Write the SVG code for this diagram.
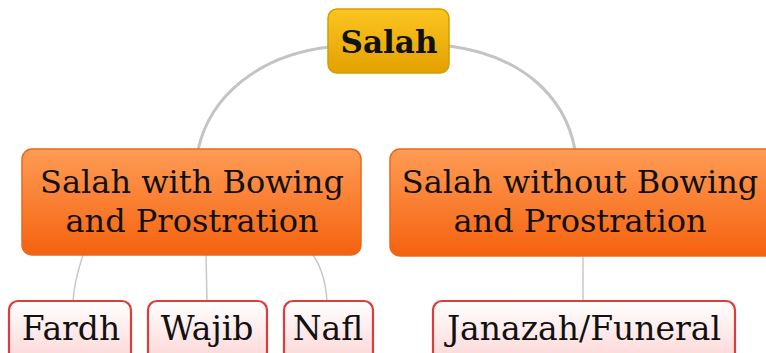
<svg xmlns="http://www.w3.org/2000/svg" width="766" height="353" viewBox="0 0 766 353">
<defs>
<linearGradient id="gold" x1="0" y1="0" x2="0" y2="1"><stop offset="0" stop-color="#fbc520"/><stop offset="1" stop-color="#e3a100"/></linearGradient>
<linearGradient id="orange" x1="0" y1="0" x2="0" y2="1"><stop offset="0" stop-color="#ff9c55"/><stop offset="1" stop-color="#f4620f"/></linearGradient>
<linearGradient id="pink" x1="0" y1="0" x2="0" y2="1"><stop offset="0" stop-color="#ffffff"/><stop offset="1" stop-color="#fcd6d6"/></linearGradient>
<style>
.t{font-family:"DejaVu Serif","Liberation Serif",serif;fill:#111;text-anchor:middle}
.main{fill:url(#orange);stroke:#e8691f;stroke-width:1.5}
.leaf{fill:url(#pink);stroke:#dd3c3c;stroke-width:2.2}
.c1{fill:none;stroke:#c4c4c4;stroke-width:3}
.c2{fill:none;stroke:#c8c8c8;stroke-width:1.5}
</style>
</defs>
<rect width="766" height="353" fill="#ffffff"/>
<g id="connectors">
<path class="c1" d="M329,47 C260,55 210,95 198,150"/>
<path class="c1" d="M449,46 C520,55 565,95 575,150"/>
<path class="c2" d="M83,255 C78,270 74,285 73,301"/>
<path class="c2" d="M206,255 L207,301"/>
<path class="c2" d="M313,255 C322,268 326,285 327,301"/>
<path class="c2" d="M583,255 L583,301"/>
</g>
<g id="salah">
<rect x="328" y="9" width="121" height="64" rx="9" fill="url(#gold)" stroke="#d89c00" stroke-width="1.5"/>
<text class="t" x="389" y="53" font-size="31" font-weight="bold">Salah</text>
</g>
<g id="with">
<rect class="main" x="22" y="149" width="339" height="106" rx="10"/>
<text class="t" x="192" y="193" font-size="32">Salah with Bowing</text>
<text class="t" x="192" y="232" font-size="32">and Prostration</text>
</g>
<g id="without">
<rect class="main" x="390" y="149" width="390" height="107" rx="10"/>
<text class="t" x="580" y="193" font-size="32">Salah without Bowing</text>
<text class="t" x="580" y="232" font-size="32">and Prostration</text>
</g>
<g id="fardh">
<rect class="leaf" x="9" y="301" width="122" height="60" rx="9"/>
<text class="t" x="71" y="340" font-size="33">Fardh</text>
</g>
<g id="wajib">
<rect class="leaf" x="148" y="301" width="119" height="60" rx="9"/>
<text class="t" x="207" y="340" font-size="33">Wajib</text>
</g>
<g id="nafl">
<rect class="leaf" x="284" y="301" width="89" height="60" rx="9"/>
<text class="t" x="328" y="340" font-size="33">Nafl</text>
</g>
<g id="janazah">
<rect class="leaf" x="433" y="301" width="302" height="60" rx="9"/>
<text class="t" x="584" y="340" font-size="33">Janazah/Funeral</text>
</g>
</svg>
